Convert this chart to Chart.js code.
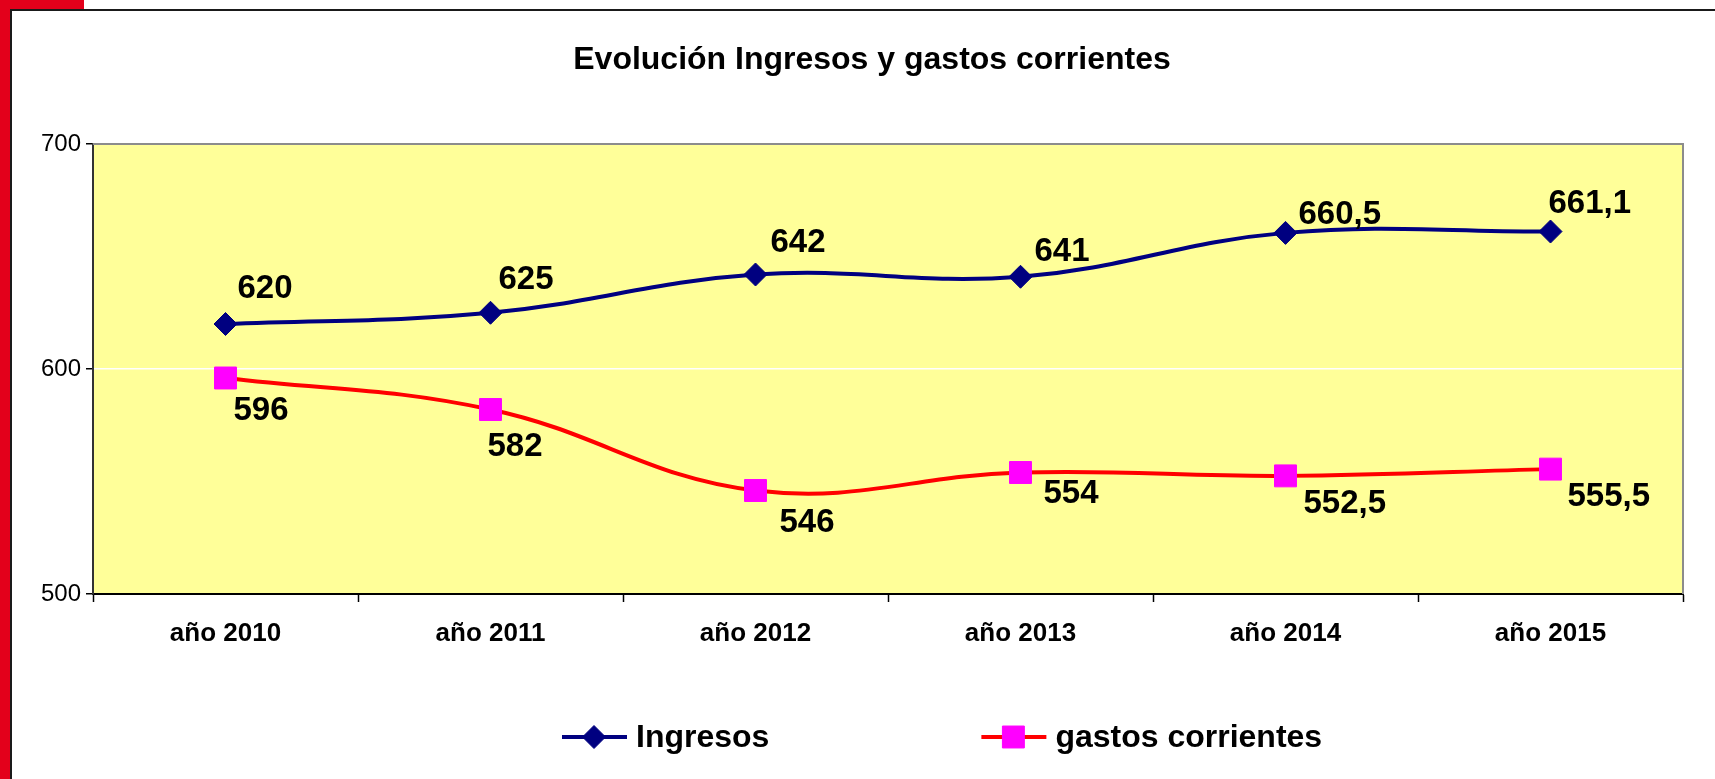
<!DOCTYPE html>
<html lang="es">
<head>
<meta charset="utf-8">
<title>Evolución Ingresos y gastos corrientes</title>
<script src="https://cdn.jsdelivr.net/npm/chart.js@4.4.1/dist/chart.umd.min.js"></script>
<style>
    html, body { margin: 0; padding: 0; background: #fff; overflow: hidden; }
    body { width: 1715px; height: 779px; position: relative; }
    .red-side { position: absolute; left: 0; top: 0; width: 10px; height: 779px; background: #e3001b; }
    .red-top { position: absolute; left: 0; top: 0; width: 84px; height: 9px; background: #e3001b; }
    .frame { position: absolute; left: 10px; top: 9px; width: 1710px; height: 775px;
             border-top: 2px solid #1a1a1a; border-left: 2px solid #1a1a1a; background: #fff; }
    .chart-box { position: absolute; left: 12px; top: 11px; width: 1703px; height: 768px; }
</style>
</head>
<body>
<div class="red-side"></div>
<div class="red-top"></div>
<div class="frame"></div>
<div class="chart-box"><canvas id="evolucionChart"></canvas></div>

<script>
// Data
const years = ['año 2010', 'año 2011', 'año 2012', 'año 2013', 'año 2014', 'año 2015'];
const ingresos = [620, 625, 642, 641, 660.5, 661.1];
const gastos = [596, 582, 546, 554, 552.5, 555.5];
const yTicks = [500, 600, 700];

// Where each value label sits relative to its point (left edge dx, middle dy)
const ingresosLabelOffsets = [[12, -37], [8, -35], [15, -34], [14, -27], [13, -20], [-2, -30]];
const gastosLabelOffsets = [[8, 31], [-3, 35], [24, 30], [23, 19], [18, 26], [17, 26]];

const FONT = '"Liberation Sans", Arial, sans-serif';
Chart.defaults.font.family = FONT;
Chart.defaults.color = '#000';

// Title drawn by hand so it can sit a bit right of the canvas centre, as in the original
const chartTitle = {
    id: 'chartTitle',
    afterDraw(chart, args, opts) {
        const ctx = chart.ctx;
        ctx.save();
        ctx.font = 'bold 32px ' + FONT;
        ctx.fillStyle = '#000';
        ctx.textAlign = 'center';
        ctx.textBaseline = 'middle';
        ctx.fillText(opts.text, opts.x, opts.y);
        ctx.restore();
    }
};

// Yellow plot area with grey top/right edge
const plotBackground = {
    id: 'plotBackground',
    beforeDraw(chart) {
        const { ctx, chartArea: a } = chart;
        ctx.save();
        ctx.fillStyle = '#ffff99';
        ctx.fillRect(a.left, a.top, a.right - a.left, a.bottom - a.top);
        ctx.restore();
    },
    beforeDatasetsDraw(chart) {
        const { ctx, chartArea: a } = chart;
        ctx.save();
        ctx.strokeStyle = '#8c8c8c';
        ctx.lineWidth = 2;
        ctx.beginPath();
        ctx.moveTo(a.left, a.top);
        ctx.lineTo(a.right, a.top);
        ctx.lineTo(a.right, a.bottom);
        ctx.stroke();
        ctx.restore();
    }
};

// Value labels next to every point
const pointLabels = {
    id: 'pointLabels',
    afterDatasetsDraw(chart) {
        const ctx = chart.ctx;
        ctx.save();
        ctx.font = 'bold 33px ' + FONT;
        ctx.fillStyle = '#000';
        ctx.textAlign = 'left';
        ctx.textBaseline = 'middle';
        chart.data.datasets.forEach((ds, i) => {
            chart.getDatasetMeta(i).data.forEach((pt, j) => {
                const [dx, dy] = ds.labelOffsets[j];
                ctx.fillText(String(ds.data[j]).replace('.', ','), pt.x + dx, pt.y + dy + 2);
            });
        });
        ctx.restore();
    }
};

// Legend drawn as line + marker, like the spreadsheet one
const lineLegend = {
    id: 'lineLegend',
    afterDraw(chart, args, opts) {
        const ctx = chart.ctx;
        let x = opts.x;
        const y = opts.y;
        ctx.save();
        ctx.font = 'bold 32px ' + FONT;
        ctx.textAlign = 'left';
        ctx.textBaseline = 'middle';
        chart.data.datasets.forEach((ds) => {
            ctx.strokeStyle = ds.borderColor;
            ctx.lineWidth = 4;
            ctx.beginPath();
            ctx.moveTo(x, y);
            ctx.lineTo(x + 65, y);
            ctx.stroke();

            ctx.fillStyle = ds.pointBackgroundColor;
            ctx.strokeStyle = ds.pointBorderColor;
            ctx.lineWidth = 1;
            Chart.helpers.drawPoint(ctx, {
                pointStyle: ds.pointStyle,
                radius: ds.pointRadius,
                rotation: 0,
                borderWidth: 1
            }, x + 32, y);

            ctx.fillStyle = '#000';
            ctx.fillText(ds.label, x + 74, y + 1);
            x += 74 + ctx.measureText(ds.label).width + opts.gap;
        });
        ctx.restore();
    }
};

const ctx = document.getElementById('evolucionChart').getContext('2d');
new Chart(ctx, {
    type: 'line',
    data: {
        labels: years,
        datasets: [
            {
                label: 'Ingresos',
                data: ingresos,
                labelOffsets: ingresosLabelOffsets,
                borderColor: '#000080',
                borderWidth: 4,
                tension: 0.4,
                pointStyle: 'rectRot',
                pointRadius: 11.5,
                pointBackgroundColor: '#000080',
                pointBorderColor: '#000080',
                pointBorderWidth: 1
            },
            {
                label: 'gastos corrientes',
                data: gastos,
                labelOffsets: gastosLabelOffsets,
                borderColor: '#ff0000',
                borderWidth: 4,
                tension: 0.4,
                pointStyle: 'rect',
                pointRadius: 15.5,
                pointBackgroundColor: '#ff00ff',
                pointBorderColor: '#ff00ff',
                pointBorderWidth: 1
            }
        ]
    },
    options: {
        responsive: true,
        maintainAspectRatio: false,
        animation: false,
        layout: { padding: { left: 0, right: 32, top: 133, bottom: 0 } },
        plugins: {
            legend: { display: false },
            tooltip: { enabled: false },
            title: { display: false },
            chartTitle: { text: 'Evolución Ingresos y gastos corrientes', x: 860, y: 49 },
            lineLegend: { x: 550, y: 726, gap: 212 }
        },
        scales: {
            x: {
                offset: true,
                afterFit: (scale) => { scale.height = 185; },
                grid: {
                    offset: true,
                    drawOnChartArea: false,
                    drawTicks: true,
                    tickLength: 8,
                    tickColor: '#000',
                    tickWidth: 1.5
                },
                border: { color: '#000', width: 2 },
                ticks: {
                    color: '#000',
                    padding: 16,
                    maxRotation: 0,
                    font: { size: 26, weight: 'bold' }
                }
            },
            y: {
                min: yTicks[0],
                max: yTicks[yTicks.length - 1],
                afterFit: (scale) => { scale.width = 81; },
                afterBuildTicks: (scale) => { scale.ticks = yTicks.map(v => ({ value: v })); },
                grid: {
                    color: (c) => (c.tick && c.tick.value === 600 ? '#ffffff' : 'rgba(0,0,0,0)'),
                    lineWidth: 1.5,
                    tickLength: 7,
                    tickColor: '#000',
                    tickWidth: 1.5
                },
                border: { color: '#333', width: 2 },
                ticks: {
                    color: '#000',
                    padding: 5,
                    font: { size: 24 }
                }
            }
        }
    },
    plugins: [plotBackground, pointLabels, lineLegend, chartTitle]
});
</script>
</body>
</html>
